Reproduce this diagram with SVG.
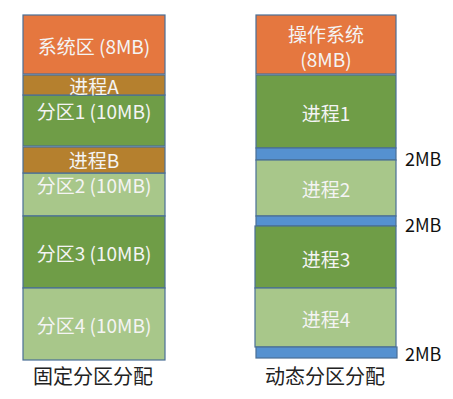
<svg xmlns="http://www.w3.org/2000/svg" width="453" height="399" viewBox="0 0 453 399">
<style>
.b{stroke:#4A6F96;stroke-width:1.2}
.or{fill:#E5773F}
.dg{fill:#6F9D47}
.lg{fill:#A8C78A}
.br{fill:#B5802E}
.bl{fill:#5591D0}
.t{font-family:"Noto Sans CJK SC","Noto Sans",sans-serif;font-size:19px;fill:#F4F4F4;text-anchor:middle;dominant-baseline:central}
.k{font-family:"Noto Sans CJK SC","Noto Sans",sans-serif;font-size:18px;fill:#111;dominant-baseline:central}
.c{font-family:"Noto Sans CJK SC",sans-serif;font-size:20px;fill:#222;text-anchor:middle;dominant-baseline:central}
</style>
<rect width="453" height="399" fill="#fff"/>
<g id="fixed">
<g id="sys"><rect class="b or" x="23" y="15" width="142" height="59"/><text class="t" x="94" y="45">系统区 (8MB)</text></g>
<g id="p1"><rect class="b dg" x="23" y="95" width="142" height="51"/><text class="t" x="94" y="110">分区1 (10MB)</text></g>
<g id="procA"><rect class="b br" x="23" y="75" width="142" height="20"/><text class="t" x="94" y="85">进程A</text></g>
<g id="p2"><rect class="b lg" x="23" y="173" width="142" height="43"/><text class="t" x="94" y="184">分区2 (10MB)</text></g>
<g id="procB"><rect class="b br" x="23" y="147" width="142" height="26"/><text class="t" x="94" y="159">进程B</text></g>
<g id="p3"><rect class="b dg" x="23" y="216" width="142" height="72"/><text class="t" x="94" y="252">分区3 (10MB)</text></g>
<g id="p4"><rect class="b lg" x="23" y="288" width="142" height="72"/><text class="t" x="94" y="324">分区4 (10MB)</text></g>
<text class="c" x="93" y="375">固定分区分配</text>
</g>
<g id="dynamic">
<g id="os"><rect class="b or" x="256" y="15" width="140" height="59"/><text class="t" x="326" y="33">操作系统</text><text class="t" x="326" y="58">(8MB)</text></g>
<g id="proc1"><rect class="b dg" x="256" y="75" width="140" height="73"/><text class="t" x="326" y="112">进程1</text></g>
<g id="free1"><rect class="b bl" x="256" y="148" width="140" height="12"/><text class="k" x="405" y="158">2MB</text></g>
<g id="proc2"><rect class="b lg" x="256" y="160" width="140" height="56"/><text class="t" x="326" y="188">进程2</text></g>
<g id="free2"><rect class="b bl" x="256" y="216" width="140" height="10"/><text class="k" x="405" y="224">2MB</text></g>
<g id="proc3"><rect class="b dg" x="255" y="226" width="141" height="62"/><text class="t" x="326" y="258">进程3</text></g>
<g id="proc4"><rect class="b lg" x="255" y="288" width="141" height="59"/><text class="t" x="326" y="318">进程4</text></g>
<g id="free3"><rect class="b bl" x="256" y="347" width="141" height="11"/><text class="k" x="405" y="353">2MB</text></g>
<text class="c" x="325" y="375">动态分区分配</text>
</g>
<g id="connectors"/>
</svg>
